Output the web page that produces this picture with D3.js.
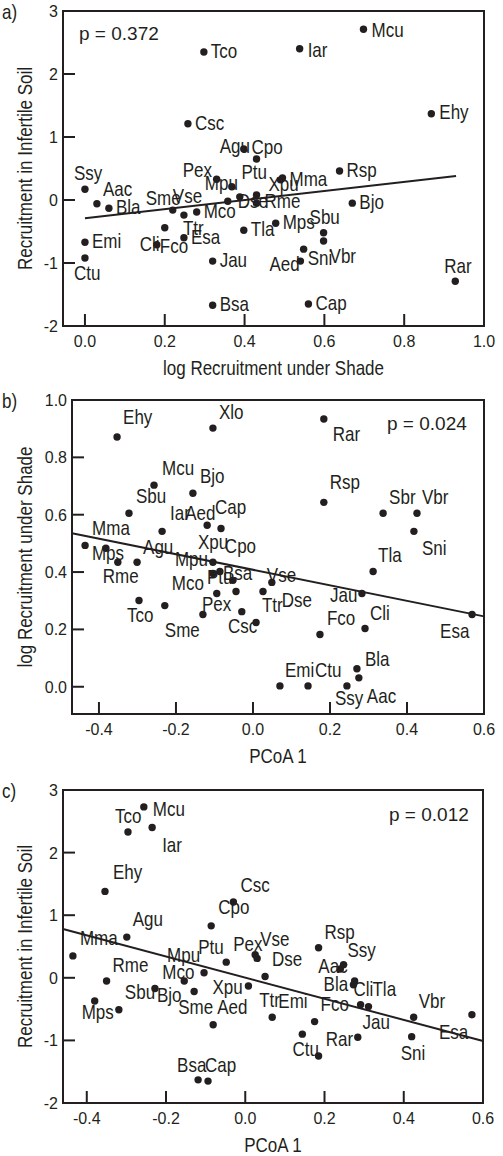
<!DOCTYPE html>
<html>
<head>
<meta charset="utf-8">
<script src="https://cdn.jsdelivr.net/npm/d3@7"></script>
<style>
  body { margin: 0; background: #fff; }
  text { fill: #231f20; }
  .lab { font-family: "Liberation Sans", Arial, sans-serif; font-size: 20px; }
  .tick { font-family: "Liberation Sans", Arial, sans-serif; font-size: 16px; }
  .pval { font-family: "Liberation Sans", Arial, sans-serif; font-size: 19px; }
</style>
</head>
<body>
<script>
// ---- data ----
// panel a: log recruitment under shade (x) vs recruitment in infertile soil (y)
const a_species = ["Tco","Csc","Agu","Cpo","Mcu","Iar","Ehy","Rsp","Xpu","Mma","Bjo","Mps","Sbu","Vbr","Sni","Aed","Rar","Cap","Tla",
  "Ssy","Aac","Bla","Emi","Ctu","Sme","Vse","Mco","Ttr","Esa","Cli","Fco","Jau","Bsa","Pex","Mpu","Ptu","Dse","Rme"];
const a_x = [0.298,0.258,0.398,0.43,0.698,0.538,0.868,0.638,0.49,0.495,0.67,0.478,0.598,0.598,0.548,0.54,0.928,0.56,0.398,
  0.0,0.03,0.06,0.0,0.0,0.22,0.358,0.28,0.248,0.248,0.18,0.20,0.32,0.32,0.33,0.368,0.43,0.388,0.43];
const a_y = [2.35,1.21,0.81,0.65,2.71,2.40,1.37,0.46,0.32,0.35,-0.05,-0.37,-0.52,-0.65,-0.78,-0.97,-1.29,-1.65,-0.48,
  0.17,-0.06,-0.13,-0.67,-0.92,-0.16,-0.02,-0.19,-0.24,-0.60,-0.71,-0.44,-0.97,-1.67,0.33,0.21,0.08,0.05,-0.05];
const a_fit = {intercept: -0.29, slope: 0.72, from: 0.0, to: 0.93};
const a_p = "p = 0.372";

// panel b: PCoA 1 (x) vs log recruitment under shade (y)
const b_species = ["Ehy","Xlo","Mcu","Bjo","Sbu","Iar","Aed","Cap","Mma","Mps","Rme","Agu","Xpu","Cpo","Mpu","Ptu","Bsa","Mco",
  "Tco","Sme","Pex","Dse","Csc","Ttr","Vse","Rar","Rsp","Sbr","Vbr","Sni","Tla","Jau","Cli","Fco","Esa","Bla","Aac","Ssy","Ctu","Emi"];
const b_x = [-0.353,-0.104,-0.257,-0.156,-0.322,-0.236,-0.119,-0.083,-0.436,-0.382,-0.351,-0.301,-0.104,-0.086,-0.104,-0.052,-0.044,-0.094,
  -0.296,-0.229,-0.13,-0.029,0.008,0.026,0.049,0.184,0.184,0.338,0.426,0.418,0.312,0.283,0.291,0.174,0.569,0.27,0.275,0.244,0.143,0.07];
const b_y = [0.871,0.902,0.703,0.675,0.605,0.542,0.563,0.552,0.493,0.483,0.434,0.434,0.434,0.402,0.395,0.371,0.332,0.325,
  0.301,0.283,0.252,0.262,0.224,0.332,0.364,0.934,0.643,0.605,0.605,0.542,0.402,0.325,0.203,0.182,0.252,0.063,0.031,0.003,0.003,0.003];
const b_fit = {intercept: 0.408, slope: -0.271, from: -0.47, to: 0.60};
const b_p = "p = 0.024";

// panel c: PCoA 1 (x) vs recruitment in infertile soil (y)
const c_species = ["Mcu","Tco","Iar","Ehy","Csc","Cpo","Agu","Mma","Ptu","Pex","Vse","Mpu","Dse","Rme","Mco","Xpu","Sbu","Bjo","Mps",
  "Sme","Aed","Ttr","Bsa","Cap","Rsp","Ssy","Aac","Bla","Cli","Jau","Tla","Emi","Fco","Ctu","Rar","Vbr","Sni","Esa"];
const c_x = [-0.256,-0.296,-0.235,-0.354,-0.03,-0.086,-0.299,-0.435,-0.048,0.025,0.03,-0.104,0.05,-0.35,-0.154,0.008,-0.319,-0.228,-0.38,
  -0.129,-0.081,0.068,-0.119,-0.094,0.185,0.248,0.24,0.276,0.273,0.291,0.311,0.144,0.175,0.185,0.284,0.425,0.42,0.572];
const c_y = [2.73,2.33,2.40,1.38,1.21,0.83,0.65,0.35,0.25,0.37,0.31,0.08,0.02,-0.05,-0.05,-0.13,-0.51,-0.17,-0.37,
  -0.22,-0.75,-0.63,-1.63,-1.65,0.48,0.21,0.14,-0.05,-0.11,-0.43,-0.46,-0.90,-0.70,-1.25,-0.95,-0.63,-0.94,-0.59];
const c_fit = {intercept: 0.003, slope: -1.689, from: -0.46, to: 0.60};
const c_p = "p = 0.012";

const soil_ticks = [-2,-1,0,1,2,3];
const shade_ticks = [0.0,0.2,0.4,0.6,0.8,1.0];
const pcoa_ticks = [-0.4,-0.2,0.0,0.2,0.4,0.6];

// ---- label offsets (px from dot), default right of the dot ----
const a_lab = {Ssy:[-11,-9],Aac:[6,-8],Ctu:[-11,22],Sme:[-27,-5],Vse:[-55,2],Ttr:[-1,20],Cli:[-17,6],Fco:[-5,25],
  Pex:[-34,-2],Mpu:[-27,3],Ptu:[-15,-16],Dse:[-2,11],Rme:[8,5],Xpu:[-12,11],Mma:[7,8],Sbu:[-14,-9],Sni:[4,16],Aed:[-31,10],
  Vbr:[6,22],Rar:[-11,-8],Agu:[-24,4],Cpo:[-5,-5],Mcu:[8,8],Iar:[8,8],Ehy:[8,5]};
const b_lab = {Ehy:[6,-13],Xlo:[6,-9],Mcu:[8,-10],Bjo:[7,-10],Sbu:[7,-10],Iar:[8,-11],Aed:[-22,-5],Cap:[-6,-14],Mma:[7,-10],
  Mps:[-14,12],Rme:[-15,21],Agu:[6,-8],Tco:[-12,22],Sme:[0,31],Xpu:[-15,-13],Mpu:[-38,-7],Cpo:[5,-18],Ptu:[-26,4],Bsa:[-13,-12],
  Mco:[-45,-4],Pex:[-1,-3],Dse:[40,-5],Csc:[-28,10],Ttr:[-1,20],Vse:[-5,0],Rar:[9,22],Rsp:[6,-13],Sbr:[6,-9],Vbr:[5,-9],
  Sni:[8,24],Tla:[5,-9],Jau:[-32,8],Cli:[5,-9],Fco:[7,-10],Esa:[-32,24],Bla:[8,-3],Aac:[8,25],Ssy:[-12,19],Ctu:[7,-9],Emi:[5,-9]};
const c_lab = {Mcu:[9,9],Tco:[-13,-9],Iar:[10,24],Ehy:[8,-12],Csc:[7,-10],Cpo:[7,-12],Agu:[6,-11],Mma:[7,-11],Ptu:[-28,-8],
  Pex:[-22,-4],Vse:[3,-12],Dse:[7,-11],Rsp:[6,-9],Ssy:[4,-8],Aac:[-22,4],Mpu:[-37,-11],Rme:[6,-9],Mco:[-22,-2],Xpu:[-36,8],
  Sbu:[6,-11],Bjo:[2,14],Mps:[-13,18],Sme:[-16,22],Aed:[4,-11],Ttr:[-13,-10],Emi:[-24,-26],Fco:[6,-11],Ctu:[-26,0],
  Bla:[-31,10],Cli:[0,11],Jau:[2,24],Tla:[4,-11],Rar:[-32,9],Vbr:[5,-9],Sni:[-11,23],Esa:[-33,24],Bsa:[-21,-8],Cap:[-3,-9]};

const W = 503, H = 1156;
const squeeze = 0.85;   // the figure's lettering is condensed
const svg = d3.select("body").append("svg").attr("width", W).attr("height", H);
svg.append("rect").attr("width", W).attr("height", H).attr("fill", "#fff");

function narrow(sel, x, y, rot){
  return sel.attr("transform", "translate(" + x + "," + y + ")" + (rot ? " rotate(" + rot + ")" : "") + " scale(" + squeeze + ",1)");
}

function panel(opt){
  let x = d3.scaleLinear().domain(opt.xdom).range([opt.left, opt.right]);
  let y = d3.scaleLinear().domain(opt.ydom).range([opt.bottom, opt.top]);
  let g = svg.append("g");

  // frame
  g.append("rect").attr("x", opt.left).attr("y", opt.top)
    .attr("width", opt.right - opt.left).attr("height", opt.bottom - opt.top)
    .attr("fill", "none").attr("stroke", "#231f20").attr("stroke-width", 2);

  // inward ticks
  let tl = 12;
  g.selectAll(".xt").data(opt.xticks.filter(d => x(d) < opt.right - 2)).enter().append("line")
    .attr("x1", d => x(d)).attr("x2", d => x(d))
    .attr("y1", opt.bottom).attr("y2", opt.bottom - tl)
    .attr("stroke", "#231f20").attr("stroke-width", 2);
  g.selectAll(".yt").data(opt.yticks.filter(d => y(d) > opt.top + 2 && y(d) < opt.bottom - 2)).enter().append("line")
    .attr("x1", opt.left).attr("x2", opt.left + tl)
    .attr("y1", d => y(d)).attr("y2", d => y(d))
    .attr("stroke", "#231f20").attr("stroke-width", 2);

  g.selectAll(".xl").data(opt.xticks).enter().append("text").attr("class", "tick")
    .attr("x", d => x(d)).attr("y", opt.bottom + 21).attr("text-anchor", "middle")
    .text(d => d3.format(".1f")(d).replace("−", "-"));
  g.selectAll(".yl").data(opt.yticks).enter().append("text").attr("class", "tick")
    .attr("x", opt.left - 5).attr("y", d => y(d) + 6).attr("text-anchor", "end")
    .text(d => opt.yfmt(d).replace("−", "-"));

  // titles
  narrow(g.append("text").attr("class", "lab"), (opt.left + opt.right) / 2, opt.bottom + 49)
    .attr("text-anchor", "middle").text(opt.xtitle);
  narrow(g.append("text").attr("class", "lab"), opt.ytx, (opt.top + opt.bottom) / 2, -90)
    .attr("text-anchor", "middle").text(opt.ytitle);
  narrow(g.append("text").attr("class", "lab"), 2, opt.top + 8).text(opt.tag);
  g.append("text").attr("class", "pval").attr("x", opt.px).attr("y", opt.py).text(opt.p);

  // regression line
  let fit = opt.fit;
  g.append("line")
    .attr("x1", x(fit.from)).attr("y1", y(fit.intercept + fit.slope * fit.from))
    .attr("x2", x(fit.to)).attr("y2", y(fit.intercept + fit.slope * fit.to))
    .attr("stroke", "#231f20").attr("stroke-width", 2);

  let pts = opt.names.map((n, i) => ({name: n, x: opt.xs[i], y: opt.ys[i]}));
  g.selectAll(".dot").data(pts).enter().append("circle").attr("class", "dot")
    .attr("cx", d => x(d.x)).attr("cy", d => y(d.y)).attr("r", 3.7).attr("fill", "#231f20");
  g.selectAll(".name").data(pts).enter().append("text").attr("class", "lab")
    .each(function(d){
      let off = opt.labs[d.name] || [7, 6];
      narrow(d3.select(this), x(d.x) + off[0], y(d.y) + off[1]);
    })
    .text(d => d.name);
}

panel({names: a_species, xs: a_x, ys: a_y, fit: a_fit, labs: a_lab, p: a_p, px: 79, py: 40, tag: "a)",
  left: 63, right: 484, top: 11, bottom: 326, xdom: [-0.055, 1.0], ydom: [-2, 3],
  xticks: shade_ticks, yticks: soil_ticks, yfmt: d3.format("d"),
  xtitle: "log Recruitment under Shade", ytitle: "Recruitment in Infertile Soil", ytx: 32});

panel({names: b_species, xs: b_x, ys: b_y, fit: b_fit, labs: b_lab, p: b_p, px: 387, py: 430, tag: "b)",
  left: 72, right: 484, top: 400, bottom: 714, xdom: [-0.47, 0.60], ydom: [-0.095, 1.0],
  xticks: pcoa_ticks, yticks: shade_ticks, yfmt: d3.format(".1f"),
  xtitle: "PCoA 1", ytitle: "log Recruitment under Shade", ytx: 32});

panel({names: c_species, xs: c_x, ys: c_y, fit: c_fit, labs: c_lab, p: c_p, px: 389, py: 821, tag: "c)",
  left: 63, right: 483, top: 790, bottom: 1103, xdom: [-0.46, 0.60], ydom: [-2, 3],
  xticks: pcoa_ticks, yticks: soil_ticks, yfmt: d3.format("d"),
  xtitle: "PCoA 1", ytitle: "Recruitment in Infertile Soil", ytx: 32});
</script>
</body>
</html>
